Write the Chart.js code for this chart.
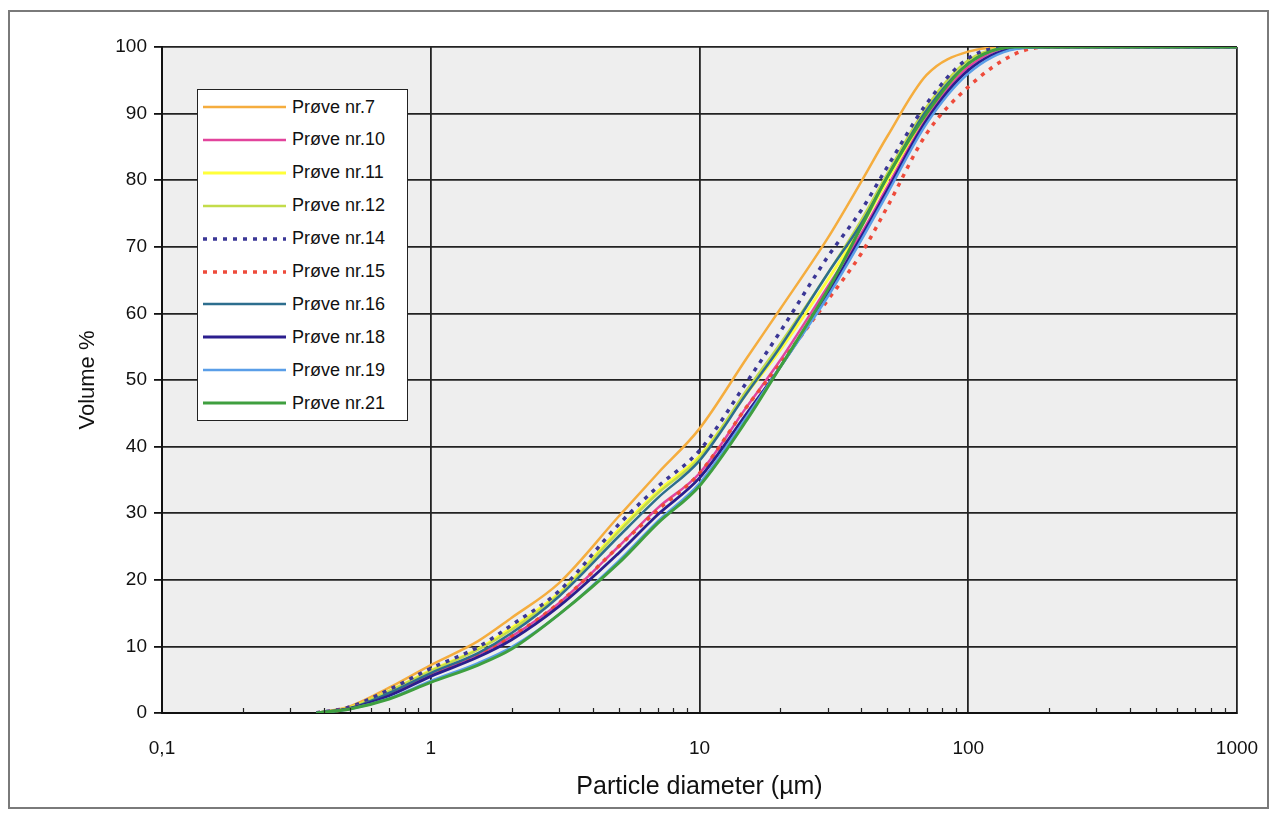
<!DOCTYPE html>
<html>
<head>
<meta charset="utf-8">
<script src="https://cdn.jsdelivr.net/npm/chart.js@4.4.1/dist/chart.umd.min.js"></script>
<style>
  html, body { margin: 0; padding: 0; background: #ffffff; }
  #wrap { position: relative; width: 1272px; height: 814px; overflow: hidden; }
  #frame { position: absolute; left: 8px; top: 10px; width: 1257px; height: 795px; border: 2px solid #7a7a7a; pointer-events: none; }
  #legend { position: absolute; left: 197px; top: 89px; width: 209px; height: 330px; border: 1px solid #222; background: #ffffff; }
  .row { position: absolute; left: 0; height: 24px; display: flex; align-items: center; }
  .row svg { display: block; }
  .row span { font-family: "Liberation Sans", Arial, sans-serif; font-size: 18px; color: #111; margin-left: 6px; white-space: nowrap; }
</style>
</head>
<body>
<div id="wrap">
  <canvas id="c" width="1272" height="814"></canvas>
  <div id="frame"></div>
  <div id="legend"></div>
</div>
<script>
// ---- data ----
const diameters = [0.375, 0.5, 0.7, 1, 1.5, 2, 3, 5, 7, 10, 15, 20, 30, 40, 50, 70, 100, 150, 200, 1000];
const seriesNames = ["Prøve nr.7", "Prøve nr.10", "Prøve nr.11", "Prøve nr.12", "Prøve nr.14", "Prøve nr.15", "Prøve nr.16", "Prøve nr.18", "Prøve nr.19", "Prøve nr.21"];
const p7  = [0, 1.0, 3.8, 7.2, 10.8, 14.3, 19.5, 29.5, 36, 42.7, 53.3, 60.7, 71.3, 79.8, 86.6, 95.8, 99.3, 100, 100, 100];
const p10 = [0, 0.7, 2.8, 5.8, 8.8, 11.5, 16.5, 25, 30.8, 36, 46, 53, 64, 72, 79, 89.5, 97, 100, 100, 100];
const p11 = [0, 0.8, 3.3, 6.4, 9.6, 12.8, 18, 27.5, 33.3, 38.6, 48, 54.5, 65, 73, 80, 90, 97.5, 100, 100, 100];
const p12 = [0, 0.8, 3.3, 6.3, 9.5, 12.5, 17.8, 27.2, 33, 38.3, 48.5, 55.5, 66, 74, 81, 91, 98, 100, 100, 100];
const p14 = [0, 0.9, 3.5, 6.7, 9.9, 13.2, 18.3, 28.3, 34, 39.4, 49.7, 57.3, 68.5, 75.5, 82, 91.5, 98.3, 100, 100, 100];
const p15 = [0, 0.7, 2.8, 5.8, 8.8, 11.5, 16.5, 25, 30.5, 36, 46, 52.5, 62, 69, 76, 87, 94, 99, 100, 100];
const p16 = [0, 0.7, 3.0, 6.0, 9.0, 12, 17.5, 26.5, 32.3, 37.9, 48, 55, 66, 73.5, 80.5, 90.5, 97.5, 100, 100, 100];
const p18 = [0, 0.7, 2.6, 5.5, 8.4, 11, 16, 24, 29.8, 35.3, 45, 52, 63, 71.5, 78.5, 89, 96.5, 99.8, 100, 100];
const p19 = [0, 0.6, 2.2, 4.8, 7.5, 9.9, 14.8, 22.8, 28.8, 34.5, 44.5, 52, 62.5, 71, 78, 88.5, 96, 99.7, 100, 100];
const p21 = [0, 0.6, 2.1, 4.6, 7.2, 9.6, 14.8, 22.5, 28.5, 34.1, 44, 52, 63.5, 73, 80.5, 90, 97.5, 100, 100, 100];
const xTickValues = [0.1, 1, 10, 100, 1000];
const xTickLabels = ["0,1", "1", "10", "100", "1000"];
const yTickValues = [0, 10, 20, 30, 40, 50, 60, 70, 80, 90, 100];

// ---- styles ----
const seriesValues = [p7, p10, p11, p12, p14, p15, p16, p18, p19, p21];
const colors = ["#f5ad3e", "#e2449c", "#ffff3a", "#c3dc4a", "#3b3796", "#ee4b3b", "#2d6e8e", "#2b1e8e", "#5a9ee8", "#3f9f3f"];
const dashes = [[], [], [], [], [4, 6], [4, 6], [], [], [], []];
const widths = [2.5, 2.5, 2.8, 2.5, 3.5, 3.5, 2.5, 2.8, 2.5, 3];

const datasets = seriesNames.map((name, i) => ({
  label: name,
  data: diameters.map((d, j) => ({ x: d, y: seriesValues[i][j] })),
  borderColor: colors[i],
  backgroundColor: colors[i],
  borderWidth: widths[i],
  borderDash: dashes[i],
  pointRadius: 0,
  fill: false,
  cubicInterpolationMode: 'monotone',
  order: seriesNames.length - i
}));

const font = "'Liberation Sans', Arial, sans-serif";

const plotBg = {
  id: 'plotBg',
  beforeDraw(chart) {
    const { ctx, chartArea: a } = chart;
    ctx.save();
    ctx.fillStyle = '#eeeeee';
    ctx.fillRect(a.left, a.top, a.right - a.left, a.bottom - a.top);
    ctx.restore();
  }
};
const minorTicks = {
  id: 'minorTicks',
  afterDatasetsDraw(chart) {
    const { ctx, chartArea: a, scales: { x } } = chart;
    ctx.save();
    ctx.strokeStyle = '#222';
    ctx.lineWidth = 1.2;
    for (let e = -1; e < 3; e++) {
      for (let k = 2; k <= 9; k++) {
        const px = Math.round(x.getPixelForValue(k * Math.pow(10, e))) + 0.5;
        ctx.beginPath();
        ctx.moveTo(px, a.bottom);
        ctx.lineTo(px, a.bottom - 5);
        ctx.stroke();
      }
    }
    ctx.restore();
  }
};

new Chart(document.getElementById('c'), {
  type: 'line',
  data: { datasets },
  options: {
    responsive: false,
    animation: false,
    devicePixelRatio: 1,
    layout: { padding: { left: 75, top: 47, right: 35, bottom: 12 } },
    plugins: { legend: { display: false }, tooltip: { enabled: false } },
    scales: {
      x: {
        type: 'logarithmic',
        min: 0.1, max: 1000,
        afterBuildTicks(scale) { scale.ticks = xTickValues.map(v => ({ value: v })); },
        afterFit(scale) { scale.height = 89; scale.paddingLeft = 0; scale.paddingRight = 0; },
        ticks: {
          autoSkip: false, maxRotation: 0, padding: 24, color: '#111',
          font: { family: font, size: 19 },
          callback(v) { const i = xTickValues.indexOf(v); return i >= 0 ? xTickLabels[i] : ''; }
        },
        grid: { color: '#222', lineWidth: 1.8, drawTicks: false },
        border: { display: true, color: '#111', width: 2 },
        title: { display: true, text: 'Particle diameter (µm)', color: '#111', font: { family: font, size: 25 }, padding: 0 }
      },
      y: {
        min: 0, max: 100,
        afterBuildTicks(scale) { scale.ticks = yTickValues.map(v => ({ value: v })); },
        afterFit(scale) { scale.width = 87; scale.paddingTop = 0; scale.paddingBottom = 0; },
        ticks: { padding: 7, color: '#111', font: { family: font, size: 19 } },
        grid: { color: '#222', lineWidth: 1.8, tickLength: 8, tickColor: '#111', tickWidth: 1.8 },
        border: { display: true, color: '#111', width: 2 },
        title: { display: true, text: 'Volume %', color: '#111', font: { family: font, size: 22 }, padding: 0 }
      }
    }
  },
  plugins: [plotBg, minorTicks]
});

// ---- HTML legend (real text) ----
const legend = document.getElementById('legend');
seriesNames.forEach((name, i) => {
  const row = document.createElement('div');
  row.className = 'row';
  row.style.top = (107 - 90 - 12 + 32.9 * i) + 'px';
  row.style.left = '5px';
  const ns = 'http://www.w3.org/2000/svg';
  const svg = document.createElementNS(ns, 'svg');
  svg.setAttribute('width', '83');
  svg.setAttribute('height', '8');
  const ln = document.createElementNS(ns, 'line');
  ln.setAttribute('x1', '0'); ln.setAttribute('x2', '83');
  ln.setAttribute('y1', '4'); ln.setAttribute('y2', '4');
  ln.setAttribute('stroke', colors[i]);
  ln.setAttribute('stroke-width', String(widths[i]));
  if (dashes[i].length) ln.setAttribute('stroke-dasharray', dashes[i].join(' '));
  svg.appendChild(ln);
  const sp = document.createElement('span');
  sp.textContent = name;
  row.appendChild(svg);
  row.appendChild(sp);
  legend.appendChild(row);
});
</script>
</body>
</html>
